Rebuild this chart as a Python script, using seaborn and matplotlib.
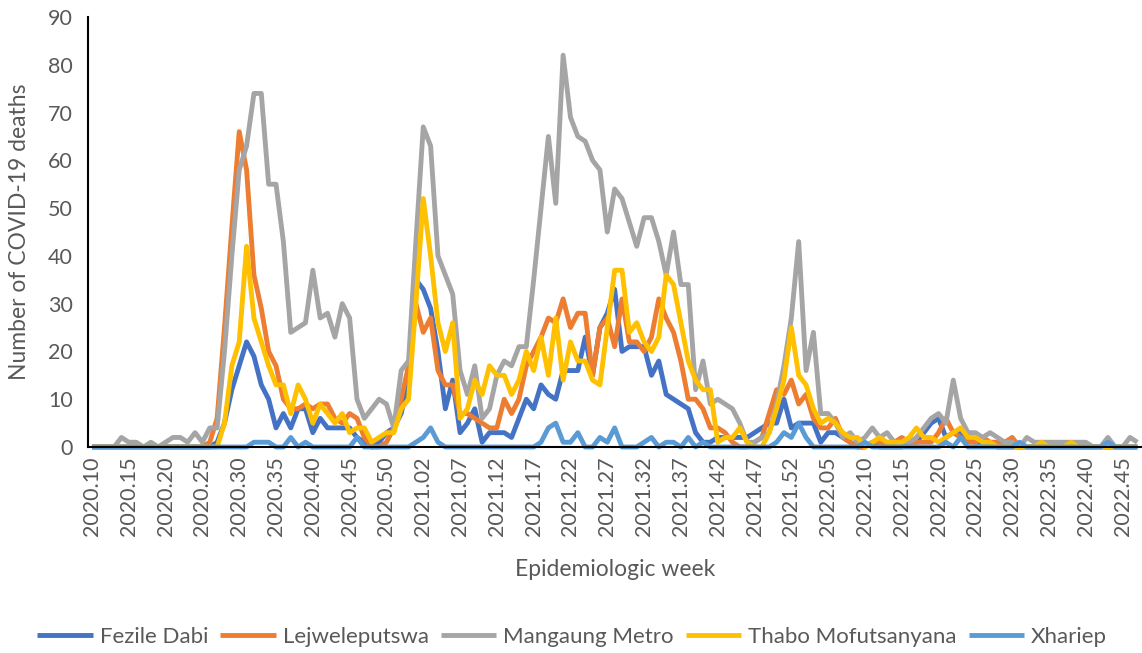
import numpy as np
import pandas as pd
import matplotlib
matplotlib.use("Agg")
import matplotlib.pyplot as plt
import seaborn as sns

# ---- Data ---------------------------------------------------------------
weeks = ([f"2020.{w:02d}" for w in range(10, 54)]
         + [f"2021.{w:02d}" for w in range(1, 53)]
         + [f"2022.{w:02d}" for w in range(1, 48)])

fezile_dabi = [
    0, 0, 0, 0, 0, 0, 0, 0, 0, 0, 0, 0, 0, 0, 0, 0, 0, 1, 5, 12,
    17, 22, 19, 13, 10, 4, 7, 4, 8, 8, 3, 6, 4, 4, 4, 4, 2, 1, 0, 1,
    3, 4, 7, 14, 35, 33, 29, 20, 8, 14, 3, 5, 8, 1, 3, 3, 3, 2, 6, 10,
    8, 13, 11, 10, 16, 16, 16, 23, 15, 25, 28, 33, 20, 21, 21, 21, 15, 18, 11, 10,
    9, 8, 3, 1, 1, 2, 2, 2, 2, 2, 3, 4, 5, 5, 10, 4, 5, 5, 5, 1,
    3, 3, 2, 1, 0, 0, 1, 0, 0, 0, 0, 1, 1, 3, 5, 6, 2, 3, 3, 2,
    1, 1, 1, 0, 0, 0, 0, 0, 0, 0, 0, 0, 0, 0, 0, 0, 0, 0, 0, 0,
    0, 0, 0]

lejweleputswa = [
    0, 0, 0, 0, 0, 0, 0, 0, 0, 0,
    0, 0, 0, 0, 0, 0, 1, 6, 25, 46, 66, 58, 36, 29, 20, 17, 10, 8, 8, 9,
    8, 9, 9, 6, 5, 7, 6, 2, 0, 0, 1, 4, 10, 17, 30, 24, 27, 16, 13, 13,
    7, 7, 6, 5, 4, 4, 10, 7, 10, 17, 20, 23, 27, 26, 31, 25, 28, 28, 15, 25,
    27, 21, 31, 22, 22, 20, 23, 31, 27, 24, 18, 10, 10, 8, 4, 4, 3, 1, 0, 0,
    1, 2, 7, 12, 11, 14, 9, 11, 6, 4, 4, 6, 2, 1, 0, 0, 1, 1, 0, 1,
    2, 1, 1, 1, 1, 3, 6, 3, 2, 1, 1, 2, 1, 1, 1, 2, 0, 0, 0, 0,
    0, 0, 0, 0, 0, 0, 0, 0, 0, 0, 0, 0, 0]

mangaung_metro = [
    0, 0, 0, 0, 2, 1, 1, 0, 1, 0, 1, 2, 2, 1, 3, 1, 4, 4, 20, 40,
    58, 63, 74, 74, 55, 55, 43, 24, 25, 26, 37, 27, 28, 23, 30, 27, 10, 6, 8, 10,
    9, 4, 16, 18, 43, 67, 63, 40, 36, 32, 16, 11, 17, 6, 8, 15, 18, 17, 21, 21,
    35, 50, 65, 51, 82, 69, 65, 64, 60, 58, 45, 54, 52, 47, 42, 48, 48, 43, 36, 45,
    34, 34, 12, 18, 9, 10, 9, 8, 5, 1, 1, 2, 3, 9, 17, 27, 43, 16, 24, 7,
    7, 5, 2, 3, 1, 2, 4, 2, 3, 1, 1, 1, 2, 4, 6, 7, 5, 14, 6, 3,
    3, 2, 3, 2, 1, 1, 0, 2, 1, 1, 1, 1, 1, 1, 1, 1, 0, 0, 2, 0,
    0, 2, 1]

thabo_mofutsanyana = [
    0, 0, 0, 0, 0, 0, 0, 0, 0, 0,
    0, 0, 0, 0, 0, 0, 0, 0, 5, 17, 22, 42, 27, 22, 17, 13, 13, 7, 13, 10,
    5, 9, 7, 5, 7, 3, 4, 4, 1, 2, 3, 3, 8, 10, 30, 52, 40, 26, 20, 26,
    6, 8, 14, 11, 17, 15, 15, 11, 14, 20, 16, 23, 15, 27, 14, 22, 18, 18, 14, 13,
    25, 37, 37, 24, 26, 22, 20, 23, 36, 34, 26, 18, 14, 12, 12, 1, 2, 2, 4, 1,
    0, 0, 3, 8, 14, 25, 15, 13, 8, 5, 6, 5, 3, 2, 2, 0, 1, 2, 1, 1,
    1, 2, 4, 2, 2, 1, 2, 3, 4, 2, 2, 1, 1, 0, 0, 0, 0, 0, 0, 1,
    0, 0, 0, 1, 0, 0, 0, 0, 0, 0, 0, 0, 0]

xhariep = [
    0, 0, 0, 0, 0, 0, 0, 0, 0, 0,
    0, 0, 0, 0, 0, 0, 0, 0, 0, 0, 0, 0, 1, 1, 1, 0, 0, 2, 0, 1,
    0, 0, 0, 0, 0, 0, 2, 0, 0, 0, 0, 0, 0, 0, 1, 2, 4, 1, 0, 0,
    0, 0, 0, 0, 0, 0, 0, 0, 0, 0, 0, 1, 4, 5, 1, 1, 3, 0, 0, 2,
    1, 4, 0, 0, 0, 1, 2, 0, 1, 1, 0, 2, 0, 1, 0, 0, 0, 0, 0, 0,
    0, 0, 0, 1, 3, 2, 5, 2, 0, 0, 0, 0, 0, 0, 0, 1, 0, 0, 0, 0,
    0, 0, 0, 0, 0, 0, 1, 0, 2, 0, 0, 0, 0, 0, 0, 0, 1, 0, 0, 0,
    0, 0, 0, 0, 0, 0, 0, 0, 1, 0, 0, 0, 0]

districts = ["Fezile Dabi", "Lejweleputswa", "Mangaung Metro",
             "Thabo Mofutsanyana", "Xhariep"]
series = [fezile_dabi, lejweleputswa, mangaung_metro, thabo_mofutsanyana, xhariep]
colors = ["#4472C4", "#ED7D31", "#A5A5A5", "#FFC000", "#5B9BD5"]

n = len(weeks)
series = [list(s[:n]) + [0] * (n - len(s)) for s in series]

rows = []
for name, vals in zip(districts, series):
    for i, v in enumerate(vals):
        rows.append({"idx": i, "week": weeks[i], "deaths": v, "district": name})
df = pd.DataFrame(rows)

# ---- Plot ---------------------------------------------------------------
sns.set_style("white")
plt.rcParams["font.family"] = ["Lato", "DejaVu Sans"]
text_color = "#595959"
lw = 3.5

fig = plt.figure(figsize=(11.42, 6.53), dpi=100)
ax = fig.add_axes([88.3 / 1142, 1 - 447 / 653, (1141 - 88.3) / 1142, (447 - 17) / 653])

sns.lineplot(data=df, x="idx", y="deaths", hue="district", hue_order=districts,
             palette=colors, linewidth=lw, ax=ax, legend=True)
for line in ax.lines:
    line.set_clip_on(False)
    line.set_solid_joinstyle("round")
    line.set_solid_capstyle("butt")

ax.set_xlim(-0.5, n - 0.5)
ax.set_ylim(0, 90)
ax.set_yticks(range(0, 91, 10))
tick_pos = list(range(0, n, 5))
ax.set_xticks(tick_pos)
ax.set_xticklabels([weeks[i] for i in tick_pos], rotation=90)

ax.tick_params(axis="both", length=0, colors=text_color, labelsize=15.5)
ax.tick_params(axis="y", pad=11)
ax.tick_params(axis="x", pad=7)

for s in ["top", "right"]:
    ax.spines[s].set_visible(False)
ax.spines["left"].set_color("#000000")
ax.spines["left"].set_linewidth(1.5)
ax.spines["bottom"].set_color("#000000")
ax.spines["bottom"].set_linewidth(1.5)

ax.set_xlabel("Epidemiologic week", fontsize=16.5, color=text_color, labelpad=16)
ax.set_ylabel("Number of COVID-19 deaths", fontsize=16.5, color=text_color, labelpad=13)

handles, labels = ax.get_legend_handles_labels()
ax.get_legend().remove()
leg = fig.legend(handles, labels, loc="center", ncol=5,
                 bbox_to_anchor=(0.501, 1 - 637 / 653), frameon=False,
                 fontsize=16, handlelength=2.5, handletextpad=0.3,
                 columnspacing=0.55, labelcolor=text_color)
for h in leg.get_lines():
    h.set_linewidth(lw)

fig.savefig("out.png", dpi=100)
